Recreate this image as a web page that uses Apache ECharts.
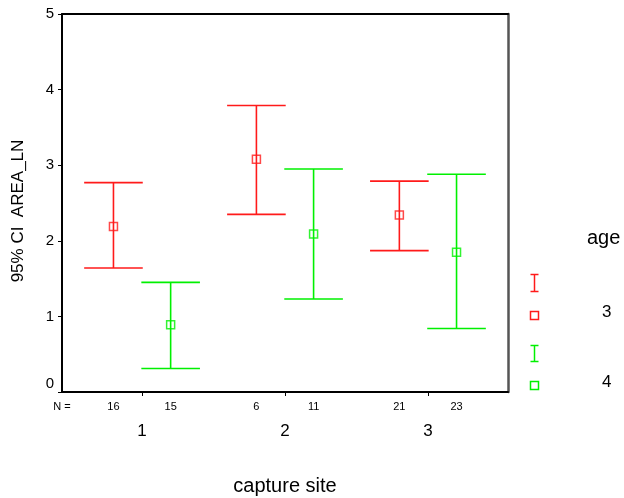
<!DOCTYPE html>
<html>
<head>
<meta charset="utf-8">
<script src="https://cdn.jsdelivr.net/npm/echarts@6/dist/echarts.min.js"></script>
<style>
  html, body { margin: 0; padding: 0; background: #fff; }
  #chart { width: 624px; height: 498px; }
</style>
</head>
<body>
<div id="chart"></div>
<script>
// capture sites and sample counts per age class
const sites = [1, 2, 3];
const ages = ['3', '4'];
const nAge3 = [16, 6, 21];
const nAge4 = [15, 11, 23];

// mean and 95% confidence limits of AREA_LN
const meanAge3 = [2.19, 3.08, 2.34];
const lowAge3 = [1.64, 2.35, 1.87];
const highAge3 = [2.77, 3.79, 2.79];

const meanAge4 = [0.89, 2.09, 1.85];
const lowAge4 = [0.31, 1.23, 0.84];
const highAge4 = [1.45, 2.95, 2.88];

const yTicks = [0, 1, 2, 3, 4, 5];

const RED = '#ff1a1a';
const GREEN = '#00f000';
const FONT = '"Liberation Sans", Arial, sans-serif';

// age classes sit side by side around each site position
const SHIFT = 0.2;
const CAP_HALF = 0.205;

const xs3 = sites.map(s => s - SHIFT);
const xs4 = sites.map(s => s + SHIFT);

const errData3 = sites.map((s, i) => [xs3[i], lowAge3[i], highAge3[i]]);
const errData4 = sites.map((s, i) => [xs4[i], lowAge4[i], highAge4[i]]);
const meanData3 = sites.map((s, i) => [xs3[i], meanAge3[i]]);
const meanData4 = sites.map((s, i) => [xs4[i], meanAge4[i]]);

const X_MIN = 0.44, X_MAX = 3.56;

// N labels under each bar, plus the "N =" caption at the left edge
const nPositions = [X_MIN].concat(sites.flatMap((s, i) => [xs3[i], xs4[i]]));
const nTexts = ['N ='].concat(sites.flatMap((s, i) => [String(nAge3[i]), String(nAge4[i])]));

function errorBar(color) {
  return function (params, api) {
    const x = api.value(0);
    const lo = api.coord([x, api.value(1)]);
    const hi = api.coord([x, api.value(2)]);
    const half = api.size([CAP_HALF, 0])[0];
    const style = { stroke: color, lineWidth: 1.6 };
    return {
      type: 'group',
      children: [
        { type: 'line', shape: { x1: hi[0], y1: hi[1], x2: lo[0], y2: lo[1] }, style },
        { type: 'line', shape: { x1: hi[0] - half, y1: hi[1], x2: hi[0] + half, y2: hi[1] }, style },
        { type: 'line', shape: { x1: lo[0] - half, y1: lo[1], x2: lo[0] + half, y2: lo[1] }, style }
      ]
    };
  };
}

const chart = echarts.init(document.getElementById('chart'), null, { renderer: 'canvas' });

const baseX = { type: 'value', min: X_MIN, max: X_MAX, splitLine: { show: false } };

chart.setOption({
  animation: false,
  backgroundColor: '#fff',
  textStyle: { fontFamily: FONT },
  grid: { left: 62, top: 14, width: 446, height: 378, containLabel: false, outerBoundsMode: 'none' },
  xAxis: [
    Object.assign({}, baseX, {
      position: 'bottom',
      name: 'capture site',
      nameLocation: 'middle',
      nameGap: 84,
      nameTextStyle: { fontSize: 20, color: '#000', fontFamily: FONT },
      axisLine: { lineStyle: { color: '#000', width: 2 } },
      axisTick: { show: true, length: 4, customValues: sites, lineStyle: { color: '#000', width: 1 } },
      axisLabel: { customValues: sites, margin: 31, fontSize: 17, color: '#000', fontFamily: FONT,
        formatter: v => String(Math.round(v)) }
    }),
    Object.assign({}, baseX, {
      position: 'bottom',
      axisLine: { show: false },
      axisTick: { show: false },
      axisLabel: { customValues: nPositions, showMinLabel: true, margin: 9, fontSize: 11, color: '#000', fontFamily: FONT,
        formatter: v => {
          let best = 0;
          nPositions.forEach((p, i) => { if (Math.abs(p - v) < Math.abs(nPositions[best] - v)) best = i; });
          return nTexts[best];
        } }
    }),
    Object.assign({}, baseX, {
      position: 'top',
      axisLine: { lineStyle: { color: '#000', width: 2 } },
      axisTick: { show: false },
      axisLabel: { show: false }
    })
  ],
  yAxis: [
    {
      type: 'value', min: 0, max: 5, interval: 1,
      name: '95% CI  AREA_LN',
      nameLocation: 'middle',
      nameRotate: 90,
      nameGap: 35,
      nameTextStyle: { fontSize: 17, color: '#000', fontFamily: FONT, padding: [0, 16, 0, 0] },
      splitLine: { show: false },
      axisLine: { lineStyle: { color: '#000', width: 2 } },
      axisTick: { show: true, length: 4, lineStyle: { color: '#000', width: 1 } },
      axisLabel: { margin: 8, fontSize: 15, color: '#000', fontFamily: FONT,
        formatter: v => v === 0 ? '{z|0}' : String(v),
        rich: { z: { fontSize: 15, color: '#000', fontFamily: FONT, padding: [0, 0, 16, 0] } } }
    },
    {
      type: 'value', min: 0, max: 5, interval: 1, position: 'right',
      splitLine: { show: false },
      axisLine: { lineStyle: { color: '#555', width: 2.5 } },
      axisTick: { show: false },
      axisLabel: { show: false }
    }
  ],
  series: [
    { name: 'ci3', type: 'custom', xAxisIndex: 0, yAxisIndex: 0, renderItem: errorBar(RED), data: errData3, encode: { x: 0, y: [1, 2] } },
    { name: 'ci4', type: 'custom', xAxisIndex: 0, yAxisIndex: 0, renderItem: errorBar(GREEN), data: errData4, encode: { x: 0, y: [1, 2] } },
    { name: ages[0], type: 'scatter', symbol: 'rect', symbolSize: 8, data: meanData3,
      itemStyle: { color: 'rgba(0,0,0,0)', borderColor: RED, borderWidth: 1.5 } },
    { name: ages[1], type: 'scatter', symbol: 'rect', symbolSize: 8, data: meanData4,
      itemStyle: { color: 'rgba(0,0,0,0)', borderColor: GREEN, borderWidth: 1.5 } }
  ],
  graphic: [
    { type: 'text', left: 587, top: 228, style: { text: 'age', fontSize: 20, fill: '#000', fontFamily: FONT } },
    // red interval glyph and mean marker
    { type: 'group', left: 528, top: 272, children: [
      { type: 'line', shape: { x1: 0, y1: 0, x2: 8, y2: 0 }, style: { stroke: RED, lineWidth: 1.5 } },
      { type: 'line', shape: { x1: 4, y1: 0, x2: 4, y2: 17 }, style: { stroke: RED, lineWidth: 1.5 } },
      { type: 'line', shape: { x1: 0, y1: 17, x2: 8, y2: 17 }, style: { stroke: RED, lineWidth: 1.5 } }
    ] },
    { type: 'rect', left: 528, top: 309, shape: { width: 8, height: 8 }, style: { fill: 'none', stroke: RED, lineWidth: 1.5 } },
    { type: 'text', left: 602, top: 304, style: { text: ages[0], fontSize: 17, fill: '#000', fontFamily: FONT } },
    // green interval glyph and mean marker
    { type: 'group', left: 528, top: 343, children: [
      { type: 'line', shape: { x1: 0, y1: 0, x2: 8, y2: 0 }, style: { stroke: GREEN, lineWidth: 1.5 } },
      { type: 'line', shape: { x1: 4, y1: 0, x2: 4, y2: 16 }, style: { stroke: GREEN, lineWidth: 1.5 } },
      { type: 'line', shape: { x1: 0, y1: 16, x2: 8, y2: 16 }, style: { stroke: GREEN, lineWidth: 1.5 } }
    ] },
    { type: 'rect', left: 528, top: 379, shape: { width: 8, height: 8 }, style: { fill: 'none', stroke: GREEN, lineWidth: 1.5 } },
    { type: 'text', left: 602, top: 374, style: { text: ages[1], fontSize: 17, fill: '#000', fontFamily: FONT } }
  ]
});
</script>
</body>
</html>
